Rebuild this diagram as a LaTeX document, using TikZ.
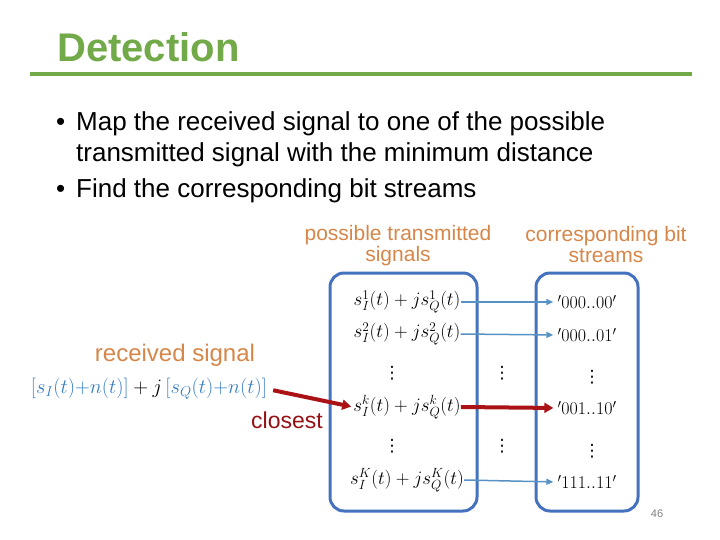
\RequirePackage{fix-cm}
\documentclass[tikz,border=0pt]{standalone}
\usepackage{amsmath}
\usepackage{fontspec}
\setmainfont{Liberation Sans}
\newfontfamily\dotsfont{DejaVu Sans}
\usepackage{tikz}
\usetikzlibrary{arrows.meta}

\definecolor{titlegreen}{RGB}{114,170,74}
\definecolor{boxblue}{RGB}{68,114,190}
\definecolor{linkblue}{RGB}{88,146,196}
\definecolor{headorange}{RGB}{214,134,72}
\definecolor{pickred}{RGB}{170,18,22}
\definecolor{closered}{RGB}{150,16,20}
\definecolor{sigblue}{RGB}{52,124,196}

\begin{document}
\begin{tikzpicture}[x=1pt, y=-1pt, every node/.style={inner sep=0pt},
    itemtext/.style={font=\fontsize{26}{31}\selectfont, anchor=base west},
    headtext/.style={text=headorange, font=\fontsize{21}{21}\selectfont, align=center},
    sigtext/.style={font=\fontsize{19}{20}\selectfont},
    bittext/.style={font=\fontsize{18}{20}\selectfont},
    vdotstext/.style={font=\dotsfont\fontsize{17}{20}\selectfont},
    boxframe/.style={draw=boxblue, line width=3pt, rounded corners=14pt},
    link/.style={draw=linkblue, line width=1.5pt, shorten >=4pt, -{Triangle[length=7pt, width=6pt]}},
    chosen/.style={draw=pickred, line width=4pt, -{Triangle[length=9pt, width=10pt]}}]
\useasboundingbox (0,0) rectangle (720,540);

% title and rule
\node[anchor=base west, text=titlegreen, font=\bfseries\fontsize{40}{44}\selectfont] (title) at (57,62) {Detection};
\draw[titlegreen, line width=4pt] (30,74) -- (692,74);

% bullets
\node[itemtext] (dot1) at (56,131) {•};
\node[itemtext] (item1a) at (76,131) {Map the received signal to one of the possible};
\node[itemtext] (item1b) at (76,162) {transmitted signal with the minimum distance};
\node[itemtext] (dot2) at (56,198) {•};
\node[itemtext] (item2) at (76,198) {Find the corresponding bit streams};

% headings
\node[headtext] (sighead) at (398,246) {possible transmitted\\signals};
\node[headtext] (bithead) at (606,244) {corresponding bit\\streams};

% the two groups
\node[boxframe, minimum width=147pt, minimum height=238pt] (sigbox) at (403.5,392) {};
\node[boxframe, minimum width=102pt, minimum height=238pt] (bitbox) at (587,392) {};

\node[sigtext] (sig1) at (407,302) {$s_I^1(t)+js_Q^1(t)$};
\node[sigtext] (sig2) at (407,334) {$s_I^2(t)+js_Q^2(t)$};
\node[vdotstext] (sigdots1) at (392,373) {⋮};
\node[sigtext] (sigk) at (407,407) {$s_I^k(t)+js_Q^k(t)$};
\node[vdotstext] (sigdots2) at (392,446) {⋮};
\node[sigtext] (sigK) at (407,480) {$s_I^K(t)+js_Q^K(t)$};

\node[vdotstext] (middots1) at (502,373) {⋮};
\node[vdotstext] (middots2) at (502,446) {⋮};

\node[bittext] (bit1) at (587,302) {$'000..00'$};
\node[bittext] (bit2) at (587,335) {$'000..01'$};
\node[vdotstext] (bitdots1) at (592,377) {⋮};
\node[bittext] (bitk) at (587,408) {$'001..10'$};
\node[vdotstext] (bitdots2) at (592,451) {⋮};
\node[bittext] (bitK) at (587,482) {$'111..11'$};

\draw[link] (sig1.east) -- (bit1.west);
\draw[link] (sig2.east) -- (bit2.west);
\draw[link] (sigK.east) -- (bitK.west);

% received signal
\node[headtext, font=\fontsize{24}{24}\selectfont] (recvhead) at (175,355) {received signal};
\node[font=\fontsize{20.5}{21}\selectfont] (recv) at (149,389)
    {$\color{sigblue}[s_I(t){+}n(t)]\color{black} + j\,\color{sigblue}[s_Q(t){+}n(t)]$};
\node[text=closered, font=\fontsize{23}{23}\selectfont] (closest) at (287,420) {closest};

\draw[chosen, shorten <=6pt, shorten >=2pt] (recv.east) -- (sigk.west);
\draw[chosen, shorten >=4pt] (sigk.east) -- (bitk.west);

\node[text=gray, font=\fontsize{11}{12}\selectfont] (pagenum) at (657,514) {46};
\end{tikzpicture}
\end{document}
